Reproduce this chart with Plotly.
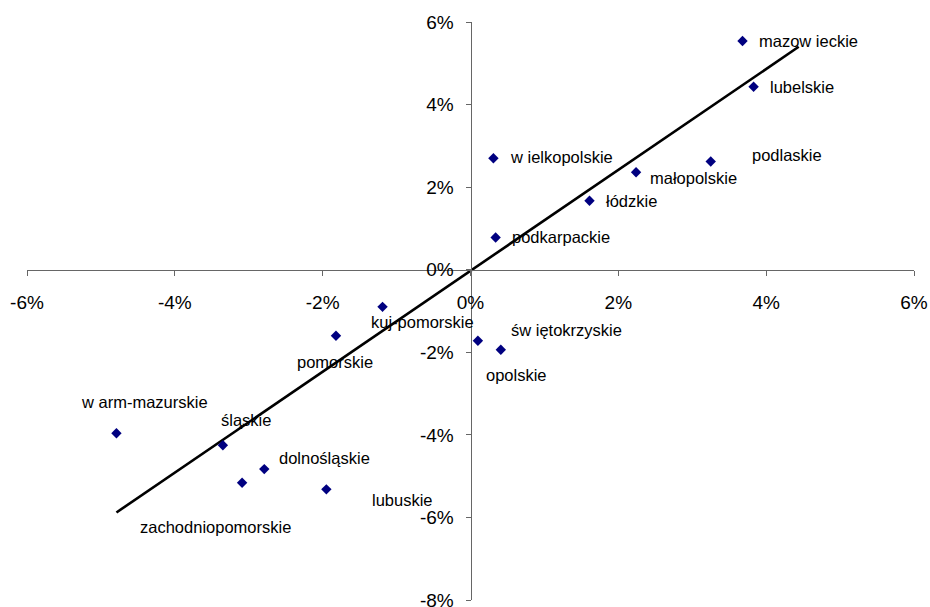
import plotly.graph_objects as go

# Data (percent)
regions = ["mazow ieckie", "lubelskie", "podlaskie", "małopolskie", "w ielkopolskie",
           "łódzkie", "podkarpackie", "kuj-pomorskie", "pomorskie", "św iętokrzyskie",
           "opolskie", "w arm-mazurskie", "śląskie", "dolnośląskie",
           "zachodniopomorskie", "lubuskie"]
x_vals = [3.68, 3.83, 3.25, 2.24, 0.31, 1.61, 0.34, -1.19, -1.82, 0.41,
          0.10, -4.79, -3.35, -2.79, -3.09, -1.95]
y_vals = [5.54, 4.43, 2.62, 2.36, 2.70, 1.67, 0.78, -0.90, -1.60, -1.94,
          -1.72, -3.96, -4.25, -4.83, -5.16, -5.32]
trend_x = [-4.79, 4.44]
trend_y = [-5.88, 5.40]
x_ticks = [-6, -4, -2, 0, 2, 4, 6]
y_ticks = [-8, -6, -4, -2, 0, 2, 4, 6]
x_tick_labels = [f"{v}%" for v in x_ticks]
y_tick_labels = [f"{v}%" for v in y_ticks]

# Label offsets in pixels (style)
label_dx = [14.6, 14.3, 39, 12.3, 14.4, 14, 14.7, -14, -40.7, 8.6, 6.3, -37.7, -3.4, 12.7, -104.4, 43.3]
label_dy = [0, 0, 6.7, -6, 1, 0, 0.6, -15, -26, 20, -34.3, 31.6, 25, 10.7, -44, -10.7]

FONT = "Liberation Sans, Arial, sans-serif"

fig = go.Figure()
fig.add_trace(go.Scatter(x=trend_x, y=trend_y, mode="lines",
                         line=dict(color="black", width=2.6), hoverinfo="skip",
                         showlegend=False))
fig.add_trace(go.Scatter(x=x_vals, y=y_vals, mode="markers",
                         marker=dict(symbol="diamond", size=8, color="#000080"),
                         text=regions, showlegend=False))

for name, xv, yv, dx, dy in zip(regions, x_vals, y_vals, label_dx, label_dy):
    fig.add_annotation(x=xv, y=yv, text=name, showarrow=False,
                       xanchor="left", yanchor="middle", xshift=dx, yshift=dy,
                       font=dict(family=FONT, size=16.5, color="black"))

fig.update_layout(
    width=930, height=607,
    margin=dict(l=26.7, r=15.7, t=22, b=7, autoexpand=False),
    paper_bgcolor="white", plot_bgcolor="white",
    font=dict(family=FONT, color="black"),
    xaxis=dict(range=[-6, 6], anchor="free", position=8 / 14,
               tickmode="array", tickvals=x_ticks, ticktext=x_tick_labels,
               showline=True, linecolor="#666", linewidth=1,
               ticks="outside", ticklen=5, tickcolor="#666",
               showgrid=False, zeroline=False, automargin=False,
               ticklabeloverflow="allow",
               tickfont=dict(size=19, family=FONT, color="black"),
               ticklabelstandoff=10),
    yaxis=dict(range=[-8, 6], anchor="free", position=0.5,
               tickmode="array", tickvals=y_ticks, ticktext=y_tick_labels,
               showline=True, linecolor="#666", linewidth=1,
               ticks="outside", ticklen=5, tickcolor="#666",
               showgrid=False, zeroline=False, automargin=False,
               ticklabeloverflow="allow",
               tickfont=dict(size=19, family=FONT, color="black"),
               ticklabelstandoff=8),
)

fig.write_html("out.html", config={"displayModeBar": False},
               post_script="document.body.style.margin='0';document.body.style.overflow='hidden';")
